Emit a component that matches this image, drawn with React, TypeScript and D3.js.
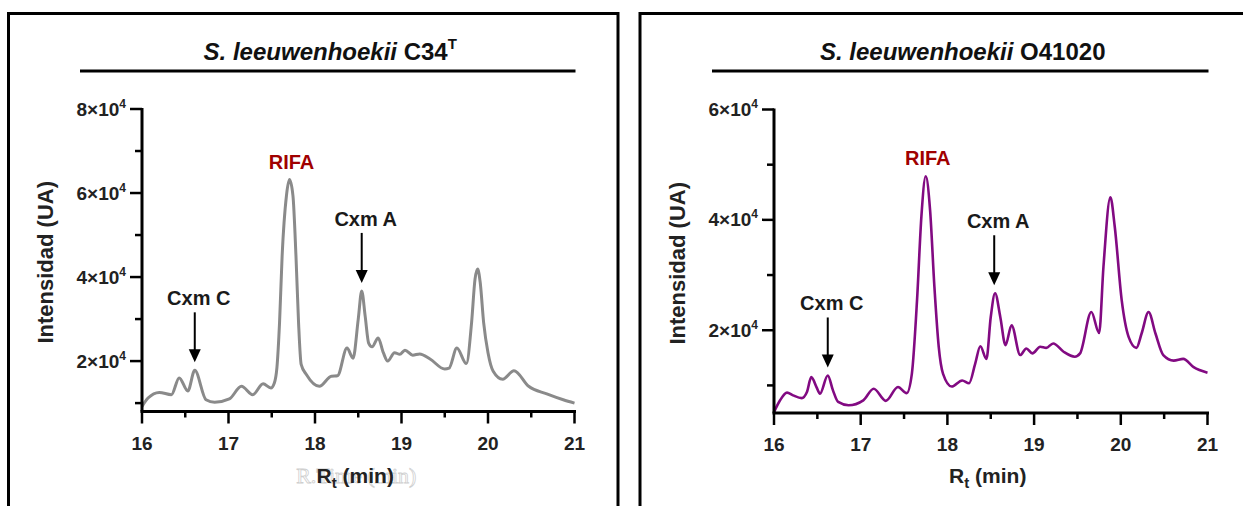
import { useEffect, useRef } from "react";
import * as d3 from "d3";

// Chromatogram of S. leeuwenhoekii C34T (min, UA)
const c34Times = [
  16.0, 16.07, 16.2, 16.34, 16.43, 16.53, 16.61, 16.74, 16.84, 17.01, 17.15, 17.28, 17.4, 17.49,
  17.53, 17.56, 17.59, 17.62, 17.67, 17.705, 17.745, 17.78, 17.81, 17.84, 17.9, 18.05, 18.19, 18.26,
  18.37, 18.44, 18.5, 18.54, 18.58, 18.62, 18.66, 18.73, 18.79, 18.84, 18.92, 18.98, 19.04, 19.13,
  19.21, 19.33, 19.5, 19.55, 19.64, 19.75, 19.81, 19.85, 19.88, 19.91, 19.95, 20.0, 20.06, 20.17,
  20.3, 20.47, 20.68, 20.87, 21.0,
];
const c34Values = [
  9200, 11200, 12550, 12000, 16000, 12900, 17800, 10800, 10200, 11000, 14000, 12000, 14600, 13600,
  14800, 18500, 29100, 45000, 59400, 63200, 59400, 45000, 29100, 19200, 16800, 14000, 16400, 16500,
  23100, 20700, 30000, 36700, 30700, 24300, 23400, 25500, 22000, 20000, 22000, 21600, 22600, 21400,
  21700, 20500, 18100, 18300, 23100, 19400, 29100, 39500, 41900, 38700, 29100, 22000, 17600, 15700,
  17700, 14000, 12200, 10800, 10000,
];

// Chromatogram of S. leeuwenhoekii O41020 (min, UA)
const o41Times = [
  16.0, 16.07, 16.15, 16.22, 16.32, 16.38, 16.43, 16.49, 16.53, 16.62, 16.68, 16.74, 16.86, 17.03,
  17.15, 17.29, 17.43, 17.53, 17.59, 17.65, 17.7, 17.75, 17.8, 17.85, 17.9, 17.95, 18.05, 18.17,
  18.25, 18.32, 18.38, 18.45, 18.5, 18.55, 18.61, 18.67, 18.74, 18.84, 18.91, 18.98, 19.07, 19.14,
  19.22, 19.34, 19.47, 19.53, 19.66, 19.75, 19.8, 19.88, 19.93, 20.01, 20.09, 20.18, 20.24, 20.32,
  20.4, 20.49, 20.61, 20.72, 20.84, 21.0,
];
const o41Values = [
  5150, 7300, 8700, 8200, 7700, 8800, 11500, 9700, 8500, 11800, 9100, 7000, 6400, 7300,
  9400, 7200, 9700, 8600, 12100, 25500, 40600, 47900, 41800, 27900, 17000, 12100, 9800, 10900,
  10400, 13900, 17100, 14800, 22400, 26700, 22400, 17300, 20900, 15500, 16700, 15800, 17000, 16800,
  17600, 16100, 15200, 15800, 23300, 19500, 31500, 44100, 38800, 25500, 18800, 16800, 19400, 23300,
  19400, 15500, 14500, 14800, 13300, 12300,
];

const xTicks = [16, 17, 18, 19, 20, 21];
const xMinorTicks = [16.5, 17.5, 18.5, 19.5, 20.5];
const c34YTicks = [20000, 40000, 60000, 80000];
const c34YMinor = [10000, 30000, 50000, 70000];
const o41YTicks = [20000, 40000, 60000];
const o41YMinor = [10000, 30000, 50000];

const c34Peaks = [
  { label: "RIFA", t: 17.705, v: 63200, arrow: false },
  { label: "Cxm A", t: 18.54, v: 36700, arrow: true },
  { label: "Cxm C", t: 16.61, v: 17800, arrow: true },
];
const o41Peaks = [
  { label: "RIFA", t: 17.75, v: 47900, arrow: false },
  { label: "Cxm A", t: 18.54, v: 26700, arrow: true },
  { label: "Cxm C", t: 16.62, v: 11800, arrow: true },
];

const FONT = "'Liberation Sans', Arial, Helvetica, sans-serif";

interface PanelOpts {
  frameX: number;
  frameRight: number;
  left: number;
  right: number;
  top: number;
  bottom: number;
  yDomain: [number, number];
  yTicks: number[];
  yMinor: number[];
  times: number[];
  values: number[];
  color: string;
  lineWidth: number;
  title: string;
  titleSup: string;
  peaks: { label: string; t: number; v: number; arrow: boolean }[];
  ghost: boolean;
}

function drawPanel(svg: d3.Selection<SVGSVGElement, unknown, null, undefined>, o: PanelOpts) {
  const g = svg.append("g");
  const x = d3.scaleLinear().domain([16, 21]).range([o.left, o.right]);
  const y = d3.scaleLinear().domain(o.yDomain).range([o.bottom, o.top]);

  // frame
  g.append("path")
    .attr("d", `M${o.frameX},520 V${13.5} H${o.frameRight} V520`)
    .attr("fill", "none")
    .attr("stroke", "#000")
    .attr("stroke-width", 3);

  // title + underline
  const cx = (o.left + o.right) / 2;
  const title = g
    .append("text")
    .attr("x", cx - 28)
    .attr("y", 60)
    .attr("text-anchor", "middle")
    .attr("font-family", FONT)
    .attr("font-weight", "bold")
    .attr("font-size", 24)
    .attr("fill", "#111");
  title.append("tspan").attr("font-style", "italic").text("S. leeuwenhoekii");
  title.append("tspan").text(" " + o.title);
  if (o.titleSup) {
    title.append("tspan").attr("font-size", 15).attr("dy", -11).text(o.titleSup);
  }
  g.append("line")
    .attr("x1", o.left - 62)
    .attr("x2", o.right + 1)
    .attr("y1", 71)
    .attr("y2", 71)
    .attr("stroke", "#000")
    .attr("stroke-width", 3);

  // trace
  const pts = o.times.map((t, i) => [t, o.values[i]] as [number, number]);
  const line = d3
    .line<[number, number]>()
    .x((d) => x(d[0]))
    .y((d) => y(d[1]))
    .curve(d3.curveMonotoneX);
  g.append("path")
    .datum(pts)
    .attr("fill", "none")
    .attr("stroke", o.color)
    .attr("stroke-width", o.lineWidth)
    .attr("stroke-linejoin", "round")
    .attr("d", line);

  // axes
  g.append("line")
    .attr("x1", o.left)
    .attr("x2", o.left)
    .attr("y1", o.top - 1)
    .attr("y2", o.bottom)
    .attr("stroke", "#000")
    .attr("stroke-width", 3);
  g.append("line")
    .attr("x1", o.left - 1.5)
    .attr("x2", o.right + 1.5)
    .attr("y1", o.bottom)
    .attr("y2", o.bottom)
    .attr("stroke", "#000")
    .attr("stroke-width", 3);

  o.yTicks.forEach((v) => {
    g.append("line")
      .attr("x1", o.left - 12)
      .attr("x2", o.left)
      .attr("y1", y(v))
      .attr("y2", y(v))
      .attr("stroke", "#000")
      .attr("stroke-width", 2.5);
    const t = g
      .append("text")
      .attr("x", o.left - 16)
      .attr("y", y(v) + 6.5)
      .attr("text-anchor", "end")
      .attr("font-family", FONT)
      .attr("font-weight", "bold")
      .attr("font-size", 19)
      .attr("fill", "#222");
    t.append("tspan").text(`${v / 10000}×10`);
    t.append("tspan").attr("font-size", 12).attr("dy", -8).text("4");
  });
  o.yMinor.forEach((v) => {
    g.append("line")
      .attr("x1", o.left - 7)
      .attr("x2", o.left)
      .attr("y1", y(v))
      .attr("y2", y(v))
      .attr("stroke", "#000")
      .attr("stroke-width", 2.5);
  });

  xTicks.forEach((t) => {
    g.append("line")
      .attr("x1", x(t))
      .attr("x2", x(t))
      .attr("y1", o.bottom)
      .attr("y2", o.bottom + 12)
      .attr("stroke", "#000")
      .attr("stroke-width", 2.5);
    g.append("text")
      .attr("x", x(t))
      .attr("y", o.bottom + 38)
      .attr("text-anchor", "middle")
      .attr("font-family", FONT)
      .attr("font-weight", "bold")
      .attr("font-size", 19)
      .attr("fill", "#222")
      .text(t);
  });
  xMinorTicks.forEach((t) => {
    g.append("line")
      .attr("x1", x(t))
      .attr("x2", x(t))
      .attr("y1", o.bottom)
      .attr("y2", o.bottom + 6)
      .attr("stroke", "#000")
      .attr("stroke-width", 2.5);
  });

  // axis titles
  const midX = (o.left + o.right) / 2;
  if (o.ghost) {
    // faint leftover label behind the real axis title
    g.append("text")
      .attr("x", midX - 2)
      .attr("y", 483)
      .attr("text-anchor", "middle")
      .attr("font-family", "'Liberation Serif', 'Times New Roman', serif")
      .attr("font-size", 22)
      .attr("fill", "#fff")
      .attr("stroke", "#cfcfcf")
      .attr("stroke-width", 0.8)
      .text("R.Time (min)");
  }
  const xt = g
    .append("text")
    .attr("x", midX - 3)
    .attr("y", 483)
    .attr("text-anchor", "middle")
    .attr("font-family", FONT)
    .attr("font-weight", "bold")
    .attr("font-size", 21)
    .attr("fill", "#222");
  xt.append("tspan").text("R");
  xt.append("tspan").attr("font-size", 15).attr("dy", 5).text("t");
  xt.append("tspan").attr("dy", -5).text(" (min)");

  g.append("text")
    .attr("transform", `translate(${o.left - 89},${(o.top + o.bottom) / 2 + 2}) rotate(-90)`)
    .attr("text-anchor", "middle")
    .attr("font-family", FONT)
    .attr("font-weight", "bold")
    .attr("font-size", 22)
    .attr("fill", "#222")
    .text("Intensidad (UA)");

  // peak annotations
  o.peaks.forEach((p) => {
    const px = x(p.t);
    const py = y(p.v);
    if (!p.arrow) {
      g.append("text")
        .attr("x", px + 2)
        .attr("y", py - 11)
        .attr("text-anchor", "middle")
        .attr("font-family", FONT)
        .attr("font-weight", "bold")
        .attr("font-size", 20)
        .attr("fill", "#a00000")
        .text(p.label);
      return;
    }
    const tip = py - 8;
    const top = tip - 50;
    g.append("line")
      .attr("x1", px)
      .attr("x2", px)
      .attr("y1", top)
      .attr("y2", tip - 10)
      .attr("stroke", "#000")
      .attr("stroke-width", 2);
    g.append("path")
      .attr("d", `M${px},${tip} L${px - 6},${tip - 13} L${px + 6},${tip - 13} Z`)
      .attr("fill", "#000");
    g.append("text")
      .attr("x", px + 4)
      .attr("y", top - 7)
      .attr("text-anchor", "middle")
      .attr("font-family", FONT)
      .attr("font-weight", "bold")
      .attr("font-size", 20)
      .attr("fill", "#1a1a1a")
      .text(p.label);
  });
}

export default function App() {
  const svgRef = useRef<SVGSVGElement>(null);

  useEffect(() => {
    if (!svgRef.current) return;
    const svg = d3.select(svgRef.current);
    svg.selectAll("*").remove();

    drawPanel(svg, {
      frameX: 8.5,
      frameRight: 618,
      left: 142,
      right: 574.5,
      top: 109,
      bottom: 411.5,
      yDomain: [8000, 80000],
      yTicks: c34YTicks,
      yMinor: c34YMinor,
      times: c34Times,
      values: c34Values,
      color: "#8a8a8a",
      lineWidth: 3,
      title: "C34",
      titleSup: "T",
      peaks: c34Peaks,
      ghost: true,
    });

    drawPanel(svg, {
      frameX: 640,
      frameRight: 1260,
      left: 774,
      right: 1207.5,
      top: 109.5,
      bottom: 413,
      yDomain: [5000, 60000],
      yTicks: o41YTicks,
      yMinor: o41YMinor,
      times: o41Times,
      values: o41Values,
      color: "#820a82",
      lineWidth: 2.6,
      title: "O41020",
      titleSup: "",
      peaks: o41Peaks,
      ghost: false,
    });
  }, []);

  return (
    <svg
      ref={svgRef}
      width={1243}
      height={506}
      style={{ position: "absolute", left: 0, top: 0, background: "#fff" }}
    />
  );
}
